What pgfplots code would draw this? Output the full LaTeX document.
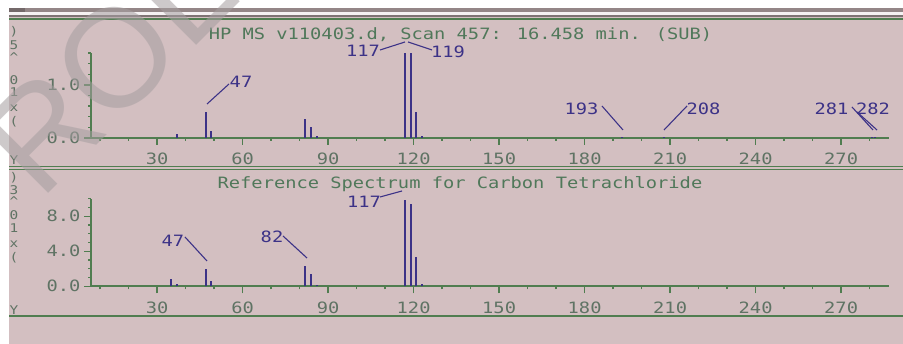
\documentclass[border=0pt]{standalone}
\usepackage{pgfplots}
\pgfplotsset{compat=1.18}
\usepackage{fontspec}
\newfontfamily\mono[FakeStretch=1.2]{DejaVu Sans Mono}
\newfontfamily\wm{Liberation Sans}
\newcommand\tf{\mono\fontsize{15.6}{18}\selectfont}
\newcommand\smf{\mono\fontsize{12}{13}\selectfont}
\definecolor{bg}{RGB}{211,191,193}
\definecolor{axgreen}{RGB}{80,125,80}
\definecolor{titlegreen}{RGB}{80,120,90}
\definecolor{tickgreen}{RGB}{95,115,100}
\definecolor{peakblue}{RGB}{60,50,135}
\definecolor{wmgray}{RGB}{165,158,160}
\pgfplotsset{
  msax/.style={
    scale only axis, width=798pt, xmin=6.8, xmax=286.8, ymin=0,
    axis x line=bottom, axis y line=left,
    axis line style={-, line width=1.8pt, color=axgreen},
    every tick/.style={line width=1.4pt, color=axgreen},
    tick align=outside, major tick length=7pt, minor tick length=3pt,
    xtick={30,60,...,270},
    minor xtick={10,20,40,50,70,80,100,110,130,140,160,170,190,200,220,230,250,260,280},
    ticklabel style={font=\tf, text=tickgreen},
    /pgf/number format/assume math mode=true,
    anchor=south west, clip=true,
  },
  peaks/.style={ycomb, line width=2pt, color=peakblue, no markers},
}
\begin{document}
\begin{tikzpicture}
\path[use as bounding box] (0,0) rectangle (903pt,344pt);
\fill[bg] (0,0) rectangle (903pt,344pt);

% top panel
\begin{axis}[msax, at={(91pt,206pt)}, height=84.8pt, ymax=1.6,
  ytick={0,1}, yticklabels={0.0,1.0}, minor ytick={0.2,0.4,0.6,0.8,1.2,1.4,1.6},
  xticklabel style={yshift=-4pt}]
\addplot[peaks] coordinates {(37,0.08) (47,0.49) (49,0.14) (82,0.36) (84,0.21) (86,0.03)
  (117,1.6) (119,1.6) (121,0.49) (123,0.03) (193,0.01) (208,0.01) (281,0.01) (282,0.01)};
\end{axis}

% bottom panel
\begin{axis}[msax, at={(91pt,57.7pt)}, height=87.5pt, ymax=10,
  ytick={0,4,8}, yticklabels={0.0,4.0,8.0}, minor ytick={1,2,3,5,6,7,9,10},
  xticklabel style={yshift=-5.5pt}]
\addplot[peaks] coordinates {(35,0.87) (37,0.25) (47,1.94) (49,0.6) (82,2.3) (84,1.45) (86,0.2)
  (117,9.83) (119,9.44) (121,3.35) (123,0.3)};
\end{axis}

\begin{scope}[x=1pt, y=-1pt, yshift=344pt]
  % frame lines
  \fill[white] (0,0) rectangle (903,8);
  \fill[white] (0,0) rectangle (9,344);
  \fill[black!30!bg] (9,8) rectangle (903,12);
  \fill[black!45!bg] (9,8) rectangle (25,12);
  \fill[white!80!bg] (9,12) rectangle (903,15);
  \draw[line width=1.4pt, color=black!40!bg] (9,16) -- (903,16);
  \draw[line width=1.6pt, color=axgreen] (9,19) -- (903,19);
  % separators
  \draw[line width=1.3pt, color=axgreen] (9,166.5) -- (903,166.5);
  \draw[line width=1.3pt, color=axgreen] (9,169.5) -- (903,169.5);
  \draw[line width=1.8pt, color=axgreen] (9,316) -- (903,316);
  % titles
  \node[anchor=base, text=titlegreen, font=\tf, inner sep=0] at (460.5,40) {HP MS v110403.d, Scan 457: 16.458 min. (SUB)};
  \node[anchor=base, text=titlegreen, font=\tf, inner sep=0] at (460,189) {Reference Spectrum for Carbon Tetrachloride};
  % peak labels top
  \begin{scope}[every node/.style={anchor=base, text=peakblue, font=\tf, inner sep=0}, peakblue, line width=1.1pt]
    \node at (363,56.5) {117}; \draw (380,50) -- (405,42);
    \node at (448,58) {119};   \draw (408,42) -- (432,50);
    \node at (241,88) {47};    \draw (207,104) -- (229,84);
    \node at (581.5,115) {193}; \draw (602,106) -- (623,130);
    \node at (703.5,115) {208}; \draw (664,130) -- (687,106);
    \node at (831.5,115) {281}; \draw (852,107) -- (873,130);
    \node at (873,115) {282};   \draw (857,112) -- (877,130);
    % bottom
    \node at (364,208) {117}; \draw (380,197) -- (402,191);
    \node at (173,247) {47};  \draw (185,237) -- (207,261);
    \node at (272,243) {82};  \draw (283,236) -- (307,258);
  \end{scope}
  % stacked axis-unit characters
  \begin{scope}[every node/.style={text=tickgreen, font=\smf, inner sep=0}]
    \node at (14,32) {)}; \node at (14,45) {5}; \node at (14,57) {\^{}}; \node at (14,80) {0};
    \node at (14,92) {1}; \node at (14,108) {x}; \node at (14,122) {(}; \node at (14,160) {Y};
    \node at (14,178) {)}; \node at (14,190) {3}; \node at (14,201) {\^{}}; \node at (14,215) {0};
    \node at (14,228) {1}; \node at (14,244) {x}; \node at (14,258) {(}; \node at (14,310) {Y};
  \end{scope}
  \fill[white] (0,0) rectangle (903,8);
  \fill[white] (0,0) rectangle (9,344);
  % watermark
  \begin{scope}[every node/.style={text=wmgray, text opacity=0.55, font=\wm\fontsize{140}{140}\selectfont, inner sep=0, rotate=45}]
    \node at (42,132) {R};
    \node at (116,58) {O};
    \node at (182,-8) {L};
  \end{scope}
\end{scope}
\end{tikzpicture}
\end{document}
